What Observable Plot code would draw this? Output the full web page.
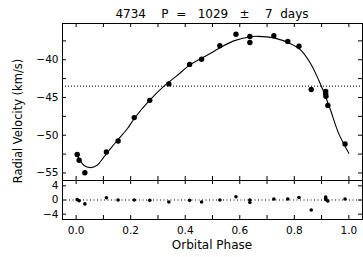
<!DOCTYPE html>
<html>
<head>
<meta charset="utf-8">
<script src="https://cdn.jsdelivr.net/npm/d3@7"></script>
<script src="https://cdn.jsdelivr.net/npm/@observablehq/plot@0.6"></script>
<style>
  html, body { margin: 0; padding: 0; background: white; }
  #wrap { position: relative; width: 363px; height: 257px; overflow: hidden; background: white; }
  #wrap > svg { position: absolute; left: 0; }
  #overlay { position: absolute; left: 0; top: 0; pointer-events: none; }
  #overlay text { font-family: "DejaVu Sans", sans-serif; fill: black; }
</style>
</head>
<body>
<div id="wrap">
  <svg id="overlay" width="363" height="257">
    <text id="title" x="212" y="18" text-anchor="middle" font-size="12" xml:space="preserve" style="white-space:pre"></text>
    <text id="xlabel" x="212" y="249" text-anchor="middle" font-size="12"></text>
    <text id="ylabel" transform="translate(21.5,121) rotate(-90)" text-anchor="middle" font-size="11.5"></text>
  </svg>
</div>
<script>
// ---- text ----
const titleText = "4734    P  =   1029   \u00b1    7  days";
const xLabel = "Orbital Phase";
const yLabel = "Radial Velocity (km/s)";

// ---- observations ----
const phase = [0.004, 0.011, 0.032, 0.111, 0.154, 0.213, 0.270, 0.340, 0.416, 0.460, 0.527, 0.586, 0.637, 0.637, 0.725, 0.776, 0.817, 0.862, 0.915, 0.915, 0.916, 0.923, 0.986];
const rv    = [-52.55, -53.32, -54.97, -52.22, -50.77, -47.67, -45.38, -43.2, -40.62, -39.93, -38.15, -36.62, -36.92, -37.71, -36.82, -37.57, -38.22, -43.95, -44.19, -44.5, -44.85, -46.05, -51.15];
const resid = [0.1, -0.2, -1.1, 0.65, 0.0, 0.0, -0.1, -0.55, -0.1, -0.55, 0.0, 0.9, 0.0, -0.7, 0.3, 0.3, 0.7, -2.8, 0.85, 0.45, 0.1, -0.3, 0.3];

// ---- fitted orbit curve ----
const curvePhase = [0.0, 0.028, 0.053, 0.077, 0.102, 0.126, 0.153, 0.187, 0.214, 0.269, 0.322, 0.37, 0.415, 0.456, 0.50, 0.53, 0.578, 0.64, 0.664, 0.725, 0.786, 0.823, 0.86, 0.89, 0.908, 0.933, 0.963, 1.0];
const curveRV    = [-52.4, -53.98, -54.29, -53.98, -52.88, -51.77, -50.6, -49.18, -47.75, -45.4, -43.5, -42.1, -40.75, -39.87, -39.0, -38.35, -37.5, -36.95, -36.9, -37.1, -37.88, -38.7, -40.53, -42.74, -44.28, -46.7, -49.79, -52.4];

const gamma = -43.5;

// ---- ticks ----
const xLabelTicks = [0, 0.2, 0.4, 0.6, 0.8, 1.0];
const xAllTicks = [0, 0.1, 0.2, 0.3, 0.4, 0.5, 0.6, 0.7, 0.8, 0.9, 1.0];
const yLabelTicks = [-55, -50, -45, -40];
const yAllTicks = [-55, -52.5, -50, -47.5, -45, -42.5, -40, -37.5];
const rLabelTicks = [-4, 0, 4];

const obs = phase.map((p, i) => ({p, v: rv[i], r: resid[i]}));
const fit = curvePhase.map((p, i) => ({p, v: curveRV[i]}));

document.getElementById("title").textContent = titleText;
document.getElementById("xlabel").textContent = xLabel;
document.getElementById("ylabel").textContent = yLabel;

const W = 363, ML = 62, MR = 1;
const plotW = W - ML - MR;
const font = {fontFamily: "DejaVu Sans", fontSize: "10.5px", background: "transparent", color: "black", overflow: "visible"};

// main panel
const mainH = 181, mainMT = 23, mainMB = 1;
const mainPH = mainH - mainMT - mainMB;
const main = Plot.plot({
  width: W, height: mainH,
  marginTop: mainMT, marginBottom: mainMB, marginLeft: ML, marginRight: MR,
  style: font,
  x: {domain: [-0.05, 1.05], axis: null},
  y: {domain: [-56, -35.2], ticks: yLabelTicks, tickSize: 0, tickPadding: 4, label: null},
  marks: [
    Plot.ruleY([gamma], {stroke: "black", strokeWidth: 1, strokeDasharray: "1,2"}),
    Plot.tickY(yAllTicks, {y: d => d, insetRight: plotW - 4, stroke: "black"}),
    Plot.tickY(yAllTicks, {y: d => d, insetLeft: plotW - 4, stroke: "black"}),
    Plot.tickX(xAllTicks, {x: d => d, insetBottom: mainPH - 4, stroke: "black"}),
    Plot.tickX(xAllTicks, {x: d => d, insetTop: mainPH - 4, stroke: "black"}),
    Plot.line(fit, {x: "p", y: "v", curve: "catmull-rom", stroke: "black", strokeWidth: 1.1}),
    Plot.dot(obs, {x: "p", y: "v", r: 2.7, fill: "black", stroke: null}),
    Plot.frame({stroke: "black", strokeWidth: 1})
  ]
});
main.style.top = "0px";

// residual panel
const resTop = 179, resH = 78, resMT = 1, resMB = 38;
const resPH = resH - resMT - resMB;
const res = Plot.plot({
  width: W, height: resH,
  marginTop: resMT, marginBottom: resMB, marginLeft: ML, marginRight: MR,
  style: font,
  x: {domain: [-0.05, 1.05], ticks: xLabelTicks, tickFormat: d3.format(".1f"), tickSize: 0, tickPadding: 7, label: null},
  y: {domain: [-5.5, 5.5], ticks: rLabelTicks, tickSize: 0, tickPadding: 4, label: null},
  marks: [
    Plot.ruleY([0], {stroke: "black", strokeWidth: 1, strokeDasharray: "1,2.5"}),
    Plot.tickY(rLabelTicks, {y: d => d, insetRight: plotW - 4, stroke: "black"}),
    Plot.tickY(rLabelTicks, {y: d => d, insetLeft: plotW - 4, stroke: "black"}),
    Plot.tickX(xAllTicks, {x: d => d, insetBottom: resPH - 4, stroke: "black"}),
    Plot.tickX(xAllTicks, {x: d => d, insetTop: resPH - 4, stroke: "black"}),
    Plot.dot(obs, {x: "p", y: "r", r: 1.8, fill: "black", stroke: null}),
    Plot.frame({stroke: "black", strokeWidth: 1})
  ]
});
res.style.top = resTop + "px";

const wrap = document.getElementById("wrap");
wrap.insertBefore(main, document.getElementById("overlay"));
wrap.insertBefore(res, document.getElementById("overlay"));
</script>
</body>
</html>
